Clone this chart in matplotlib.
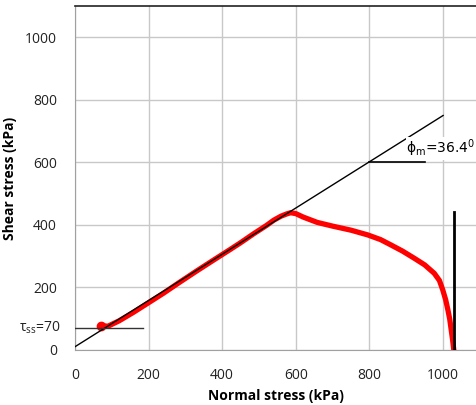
import matplotlib
matplotlib.use("Agg")
import matplotlib.pyplot as plt
import matplotlib.transforms as mtransforms

plt.rcParams['font.family'] = ['Open Sans', 'DejaVu Sans']

# Measured shear path (normal stress, shear stress), kPa
normal_stress = [70, 90, 120, 160, 200, 240, 280, 330, 380, 420, 450, 486,
                 520, 540, 560, 575, 586, 600, 620, 658, 700, 750, 795, 830,
                 858, 890, 922, 950, 976, 990, 999, 1007, 1013, 1018, 1022,
                 1026, 1029]
shear_stress = [77, 76, 93, 121, 151, 181, 213, 252, 290, 320, 343, 372,
                398, 415, 428, 435, 439, 436, 425, 408, 396, 383, 368, 353,
                336, 316, 293, 272, 245, 222, 192, 160, 128, 98, 64,
                30, 0]

# Failure envelope, phi_m = 36.4 deg
envelope_x = [0, 1000]
envelope_y = [10, 750]

# Steady-state line
tau_ss = 70
tau_ss_x = [0, 185]

# Angle marker
phi_x = [800, 950]
phi_y = [600, 600]

# Vertical line at end of test
end_x = [1030, 1030]
end_y = [0, 440]

x_ticks = [0, 200, 400, 600, 800, 1000]
y_ticks = [0, 200, 400, 600, 800, 1000]

fig = plt.figure(figsize=(4.77, 4.05), dpi=100)
ax = fig.add_axes([0.157, 0.136, 0.843, 0.849])

ax.plot(normal_stress, shear_stress, color='#ff0000', linewidth=3.8,
        solid_capstyle='round', solid_joinstyle='round', zorder=3)
ax.plot(normal_stress[0], shear_stress[0], 'o', color='#ff0000',
        markersize=6, zorder=3)
ax.plot(envelope_x, envelope_y, color='black', linewidth=1, zorder=4)
ax.plot(tau_ss_x, [tau_ss, tau_ss], color='#333333', linewidth=1, zorder=4)
ax.plot(phi_x, phi_y, color='black', linewidth=1.2, zorder=4)
ax.plot(end_x, end_y, color='black', linewidth=2, zorder=4)

ax.text(900, 645, 'ϕ$_\\mathregular{m}$=36.4$^\\mathregular{0}$',
        fontsize=10, va='center', ha='left', zorder=5, family='DejaVu Sans',
        bbox=dict(facecolor='white', edgecolor='none', pad=0.5))

trans = mtransforms.blended_transform_factory(ax.transAxes, ax.transData)
ax.text(-0.035, tau_ss, 'τ$_\\mathregular{ss}$=70', transform=trans,
        ha='right', va='center', fontsize=10, color='#222222')

ax.set_xlim(0, 1092)
ax.set_ylim(0, 1100)
ax.set_xticks(x_ticks)
ax.set_yticks(y_ticks)
ax.tick_params(length=0, labelsize=10, colors='#222222', pad=13)
ax.grid(True, color='#c8c8c8', linewidth=1)
ax.set_axisbelow(True)

for side in ['left', 'bottom']:
    ax.spines[side].set_color('#a0a0a0')
ax.spines['right'].set_visible(False)
ax.spines['top'].set_color('#222222')
ax.spines['top'].set_linewidth(1.2)

ax.set_xlabel('Normal stress (kPa)', fontsize=10, fontweight='bold', labelpad=4)
ax.set_ylabel('Shear stress (kPa)', fontsize=10, fontweight='bold', labelpad=6)

fig.savefig('out.png', dpi=100)
